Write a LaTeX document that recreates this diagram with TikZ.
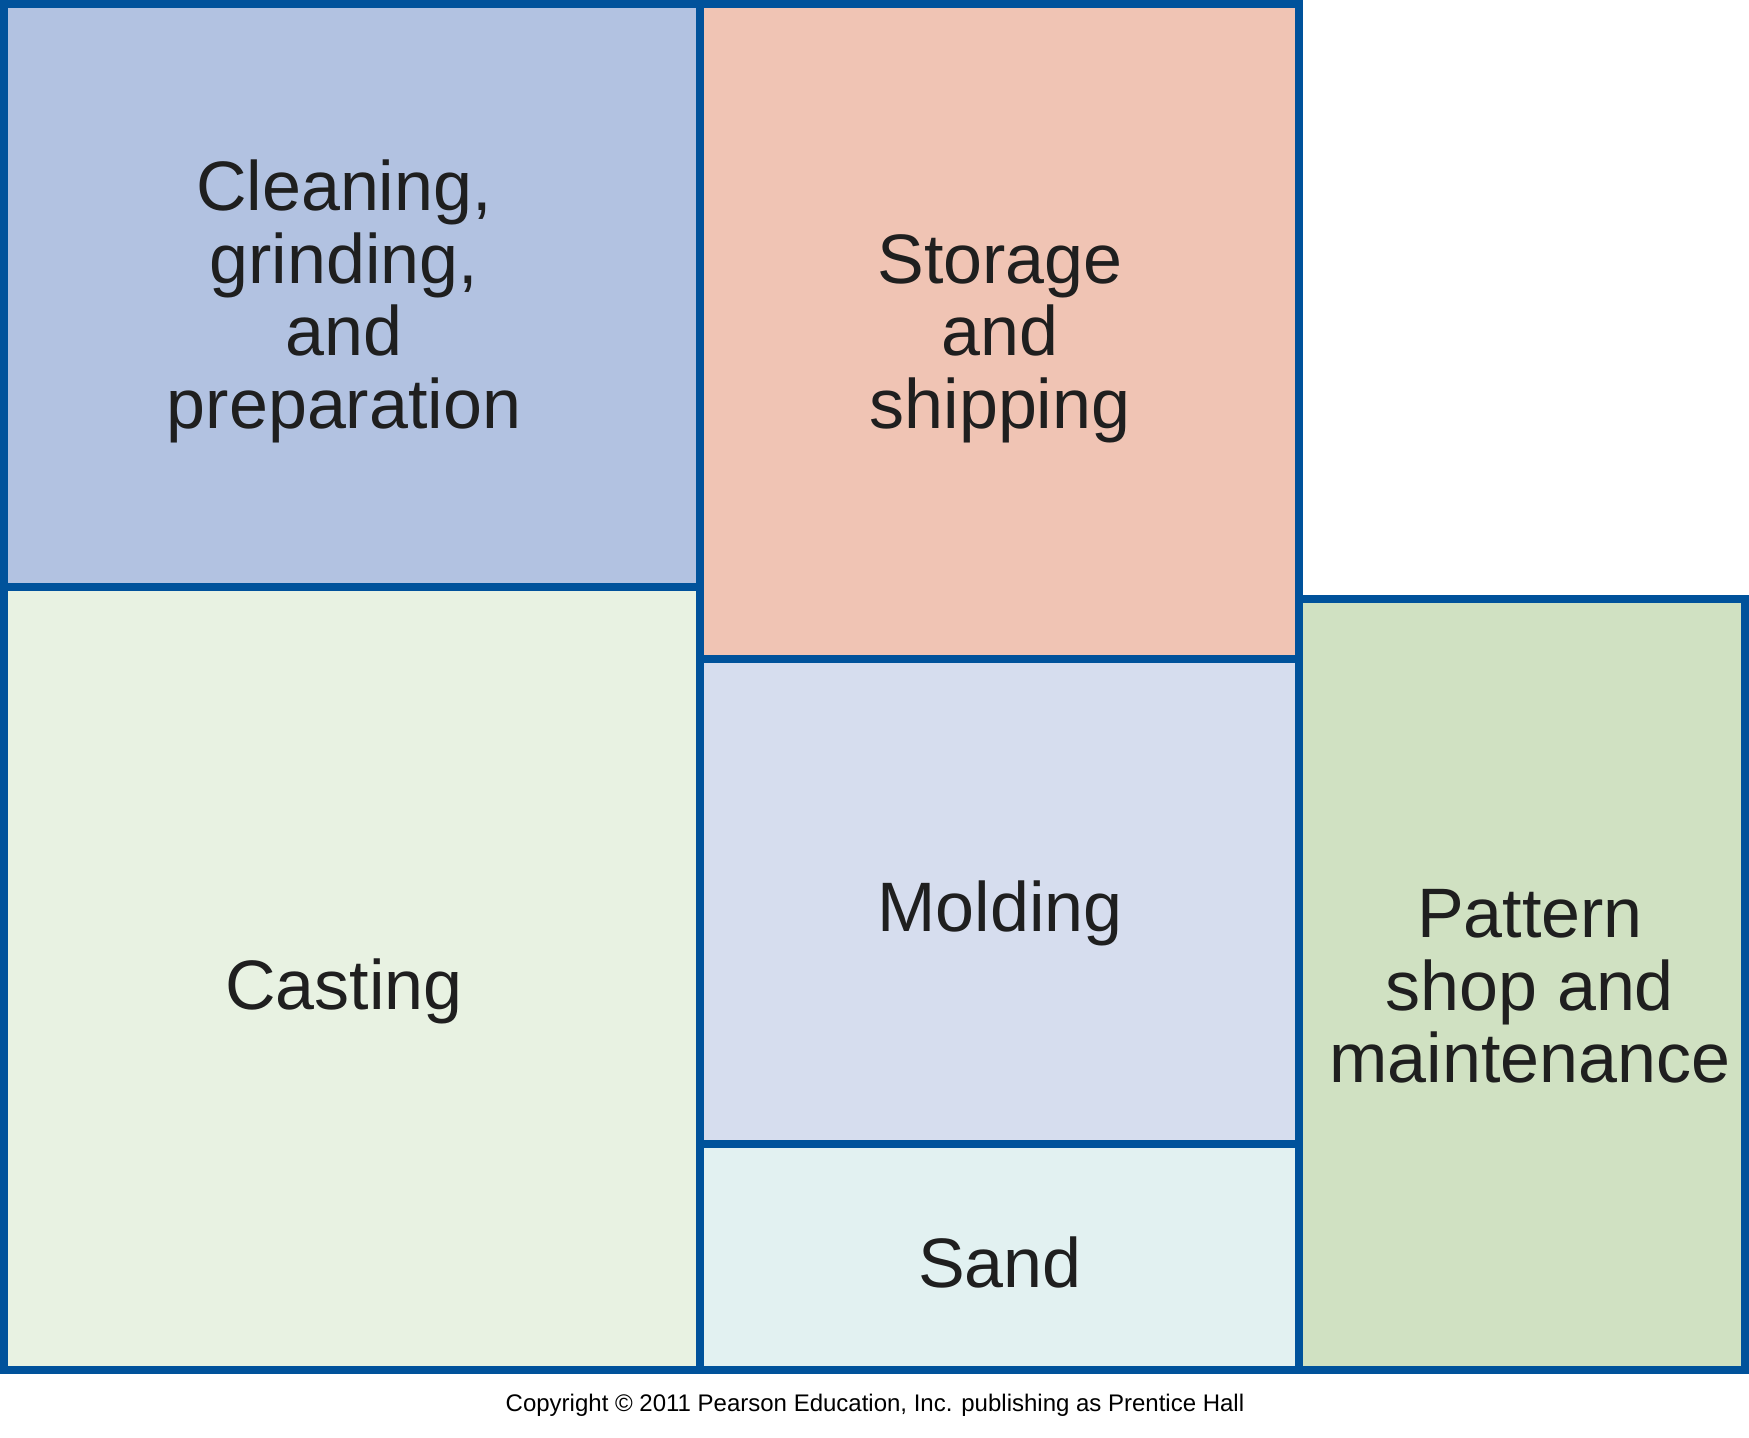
\documentclass[tikz,border=0pt]{standalone}
\usepackage{fontspec}
\setmainfont{Liberation Sans}
\definecolor{wallblue}{RGB}{0,82,155}
\definecolor{cleanfill}{RGB}{178,194,225}
\definecolor{storefill}{RGB}{240,196,180}
\definecolor{castfill}{RGB}{232,242,226}
\definecolor{moldfill}{RGB}{214,221,238}
\definecolor{sandfill}{RGB}{226,241,241}
\definecolor{patfill}{RGB}{208,225,194}
\begin{document}
\begin{tikzpicture}[x=1pt,y=-1pt,
  wall/.style={draw=wallblue,line width=8pt,line join=miter},
  roomlabel/.style={font=\fontsize{70}{72.5}\selectfont,align=center,inner sep=0pt,text=black!88},
  copy/.style={font=\fontsize{24}{28}\selectfont,inner sep=0pt,anchor=base}]
\useasboundingbox (0,0) rectangle (1749,1438);
% fills
\fill[cleanfill] (4,4) rectangle (700,587);
\fill[castfill] (4,587) rectangle (700,1370);
\fill[storefill] (700,4) rectangle (1299,659);
\fill[moldfill] (700,659) rectangle (1299,1144);
\fill[sandfill] (700,1144) rectangle (1299,1370);
\fill[patfill] (1299,599) rectangle (1745,1370);
% walls
\draw[wall] (4,4) rectangle (700,587);
\draw[wall] (4,587) rectangle (700,1370);
\draw[wall] (700,4) rectangle (1299,659);
\draw[wall] (700,659) rectangle (1299,1144);
\draw[wall] (700,1144) rectangle (1299,1370);
\draw[wall] (1299,599) rectangle (1745,1370);
% labels
\node[roomlabel] (clean) at (344,301.5) {Cleaning,\\grinding,\\and\\preparation};
\node[roomlabel] (store) at (1000,338.5) {Storage\\and\\shipping};
\node[roomlabel] (cast) at (344,991.5) {Casting};
\node[roomlabel] (mold) at (1000,913) {Molding};
\node[roomlabel] (sand) at (1000,1262.5) {Sand};
\node[roomlabel] (pattern) at (1530,986.5) {Pattern\\shop and\\maintenance};
\node[copy] (copyright) at (875,1411) {Copyright © 2011 Pearson Education, Inc. publishing as Prentice Hall};
\end{tikzpicture}
\end{document}
